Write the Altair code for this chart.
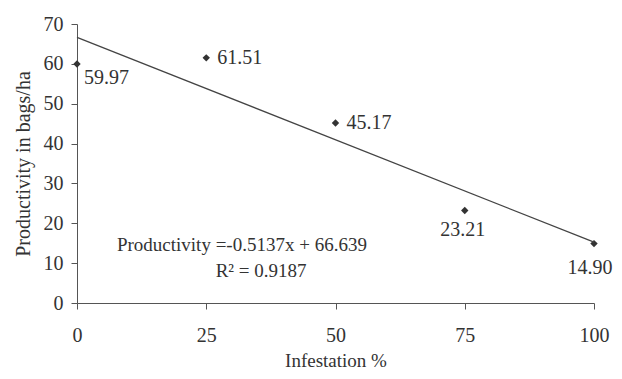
import altair as alt
import pandas as pd

infestation = [0, 25, 50, 75, 100]
productivity = [59.97, 61.51, 45.17, 23.21, 14.90]
labels = ["59.97", "61.51", "45.17", "23.21", "14.90"]
x_ticks = [0, 25, 50, 75, 100]
y_ticks = [0, 10, 20, 30, 40, 50, 60, 70]
equation = "Productivity =-0.5137x + 66.639"
r2_text = "R\u00b2 = 0.9187"

df = pd.DataFrame({"x": infestation, "y": productivity, "label": labels})

FONT = "Liberation Serif"
INK = "#333333"

xs = alt.Scale(domain=[0, 100], nice=False)
ys = alt.Scale(domain=[0, 70], nice=False)

xenc = alt.X("x:Q", scale=xs, axis=alt.Axis(
    values=x_ticks, title="Infestation %", grid=False,
    labelFontSize=20, titleFontSize=19, titleFontWeight="normal", labelColor=INK,
    titleColor=INK, domainColor="#555555", tickColor="#555555", tickSize=6,
    labelPadding=16, titlePadding=6, labelFlush=False, labelOverlap=False))
yenc = alt.Y("y:Q", scale=ys, axis=alt.Axis(
    values=y_ticks, title="Productivity in bags/ha", grid=False,
    labelFontSize=20, titleFontSize=20, titleFontWeight="normal",
    labelColor=INK, titleColor=INK, domainColor="#555555", tickColor="#555555",
    tickSize=6, labelPadding=8, titlePadding=10, labelFlush=False, labelOverlap=False))

base = alt.Chart(df).encode(x=xenc, y=yenc)

points = base.mark_point(shape="diamond", filled=True, size=55, color=INK, opacity=1)

trend = base.transform_regression("x", "y", extent=[0, 100]).mark_line(
    color="#444444", strokeWidth=1.3)

def lab(xvals, **kw):
    return base.transform_filter(
        alt.FieldOneOfPredicate(field="x", oneOf=xvals)
    ).mark_text(font=FONT, fontSize=20, color=INK, **kw).encode(text="label:N")

lab_a = lab([0], align="left", baseline="middle", dx=7, dy=14)
lab_b = lab([25, 50], align="left", baseline="middle", dx=11, dy=0)
lab_c = lab([75], align="center", baseline="middle", dx=-2, dy=20)
lab_d = lab([100], align="center", baseline="middle", dx=-4, dy=24)

ann = pd.DataFrame({"x": [31.9, 35.6], "y": [14.5, 8.0], "t": [equation, r2_text]})
annot = alt.Chart(ann).mark_text(font=FONT, fontSize=19, color=INK, align="center",
                                 baseline="middle").encode(x=xenc, y=yenc, text="t:N")

chart = alt.layer(points, trend, lab_a, lab_b, lab_c, lab_d, annot).properties(
    width=517, height=279,
    padding={"left": 69, "top": 16, "right": 20, "bottom": 68},
    autosize=alt.AutoSizeParams(type="none"),
    background="white",
).configure(font=FONT).configure_view(stroke=None)

chart.save("out.html", embed_options={"renderer": "svg", "actions": False})
